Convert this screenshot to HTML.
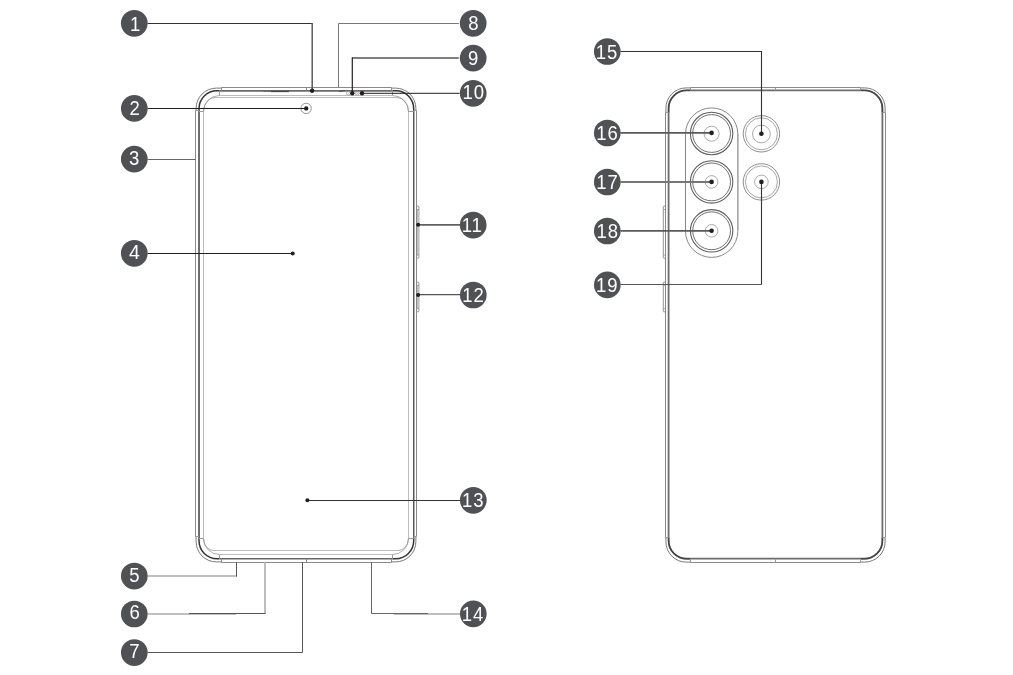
<!DOCTYPE html>
<html lang="en">
<head>
<meta charset="utf-8">
<title>Device layout</title>
<style>
html,body{margin:0;padding:0;background:#fff;}
body{width:1013px;height:675px;overflow:hidden;font-family:"Liberation Sans",sans-serif;}
svg{display:block;}
</style>
</head>
<body>
<svg width="1013" height="675" viewBox="0 0 1013 675">
<defs><filter id="gray" x="0" y="0" width="1013" height="675" filterUnits="userSpaceOnUse" color-interpolation-filters="sRGB"><feColorMatrix type="saturate" values="0"/></filter></defs>
<rect width="1013" height="675" fill="#fff"/>
<g id="front">
<rect x="416.5" y="206.1" width="2.4" height="52.1" rx="0.8" ry="0.8" fill="none" stroke="#808080" stroke-width="0.8"/>
<path d="M417.7 209.8 L417.7 254.8" fill="none" stroke="#c0c0c0" stroke-width="1.6"/>
<path d="M416.5 209.5 H418.9 M416.5 255 H418.9" fill="none" stroke="#888" stroke-width="0.8"/>
<rect x="416.5" y="282.2" width="2.4" height="29.6" rx="0.8" ry="0.8" fill="none" stroke="#808080" stroke-width="0.8"/>
<path d="M417.7 285.6 L417.7 308.4" fill="none" stroke="#c0c0c0" stroke-width="1.6"/>
<path d="M416.5 285.3 H418.9 M416.5 308.7 H418.9" fill="none" stroke="#888" stroke-width="0.8"/>
<path d="M195.5 110.5 V536.5 M416.5 110.5 V536.5 M221.5 87.5 H391.5 M221.5 562.5 H391.5" fill="none" stroke="#8a8a8a" stroke-width="1"/>
<path d="M196.1 110.5 L196.1 108.39999999999999 A20.3 20.3 0 0 1 216.4 88.1 L221.5 88.1 M415.9 110.5 L415.9 108.39999999999999 A20.3 20.3 0 0 0 395.59999999999997 88.1 L391.5 88.1 M196.1 536.5 L196.1 541.6 A20.3 20.3 0 0 0 216.4 561.9 L221.5 561.9 M415.9 536.5 L415.9 541.6 A20.3 20.3 0 0 1 395.59999999999997 561.9 L391.5 561.9" fill="none" stroke="#6a6a6a" stroke-width="0.9"/>
<path d="M199 111.5 V538.5" fill="none" stroke="#6e6e6e" stroke-width="2"/>
<path d="M413.75 111.5 V538.5" fill="none" stroke="#5a5a5a" stroke-width="1.5"/>
<path d="M219.5 90.85 H392.5" fill="none" stroke="#6a6a6a" stroke-width="1.8"/>
<path d="M219.5 558.7 H392.5" fill="none" stroke="#666" stroke-width="1.6"/>
<path d="M199.0 111.5 L199.0 108.8 A18 18 0 0 1 217.0 90.8 L219.5 90.8 M413.7 111.5 L413.7 108.8 A18 18 0 0 0 395.7 90.8 L392.5 90.8 M199.0 538.5 L199.0 540.7 A18 18 0 0 0 217.0 558.7 L219.5 558.7 M413.7 538.5 L413.7 540.7 A18 18 0 0 1 395.7 558.7 L392.5 558.7" fill="none" stroke="#333" stroke-width="1.5"/>
<path d="M203.5 111.5 L203.5 538.5 M408.5 111.5 L408.5 538.5 M219.5 95.5 L392.5 95.5 M214.5 97.5 L397.5 97.5 M214 550.5 L398 550.5 M219.5 554.5 L392.5 554.5" fill="none" stroke="#bdbdbd" stroke-width="1"/>
<path d="M203.5 111.5 A16 16 0 0 1 219.5 95.5 M408.5 111.5 A16 16 0 0 0 392.5 95.5 M203.5 111.5 A11.5 14 0 0 1 215 97.5 M408.5 111.5 A11.5 14 0 0 0 397 97.5 M203.5 538.5 A16 16 0 0 0 219.5 554.5 M408.5 538.5 A16 16 0 0 1 392.5 554.5 M203.5 538.5 A10.5 12 0 0 0 214 550.5 M408.5 538.5 A10.5 12 0 0 1 398 550.5" fill="none" stroke="#8c8c8c" stroke-width="0.7"/>
<path d="M221.5 87.5 L221.5 90.7" fill="none" stroke="#8a8a8a" stroke-width="1"/>
<path d="M221.5 558.6 L221.5 562.5" fill="none" stroke="#8a8a8a" stroke-width="1"/>
<path d="M306.5 87.5 L306.5 90.7" fill="none" stroke="#8a8a8a" stroke-width="1"/>
<path d="M306.5 558.6 L306.5 562.5" fill="none" stroke="#8a8a8a" stroke-width="1"/>
<path d="M391.5 87.5 L391.5 90.7" fill="none" stroke="#8a8a8a" stroke-width="1"/>
<path d="M391.5 558.6 L391.5 562.5" fill="none" stroke="#8a8a8a" stroke-width="1"/>
<path d="M219.5 90.7 L219.5 95.5" fill="none" stroke="#999" stroke-width="1"/>
<path d="M219.5 554.5 L219.5 558.6" fill="none" stroke="#999" stroke-width="1"/>
<path d="M392.5 90.7 L392.5 95.5" fill="none" stroke="#999" stroke-width="1"/>
<path d="M392.5 554.5 L392.5 558.6" fill="none" stroke="#999" stroke-width="1"/>
<path d="M195.5 110.5 H199 M199 111.5 H203.5 M413.6 110.5 H416.5 M408.5 111.5 H413.6 M195.5 536.5 H199 M199 538.5 H203.5 M413.6 536.5 H416.5 M408.5 538.5 H413.6" fill="none" stroke="#999" stroke-width="1"/>
<path d="M263.5 91.2 L272 91.2" fill="none" stroke="#666" stroke-width="1.2"/>
<path d="M271 91.4 L289 91.4" fill="none" stroke="#4a4a4a" stroke-width="1.5"/>
<path d="M339.5 91.3 L345 90.5" fill="none" stroke="#444" stroke-width="1"/>
<circle cx="348.4" cy="93.3" r="1.9" fill="none" stroke="#999" stroke-width="0.7"/>
<circle cx="357.2" cy="93.3" r="1.9" fill="none" stroke="#999" stroke-width="0.7"/>
<path d="M347.2 94.5 L349.6 92.1 M356 94.5 L358.4 92.1 M356 92.1 L358.4 94.5" fill="none" stroke="#aaa" stroke-width="0.6"/>
<circle cx="306.1" cy="108.4" r="5.2" fill="none" stroke="#888" stroke-width="0.9"/>
</g>
<g id="back">
<rect x="663.3" y="206.1" width="2.2" height="52.1" rx="0.5" ry="0.5" fill="none" stroke="#888" stroke-width="0.9"/>
<rect x="663.3" y="282.2" width="2.2" height="29.6" rx="0.5" ry="0.5" fill="none" stroke="#888" stroke-width="0.9"/>
<path d="M663.3 209.5 H665.5 M663.3 255 H665.5 M663.3 285.3 H665.5 M663.3 308.7 H665.5" fill="none" stroke="#999" stroke-width="0.8"/>
<path d="M665.5 112.5 V537.5 M885.5 112.5 V537.5 M690.5 87.5 H860.5 M690.5 562.5 H860.5" fill="none" stroke="#8a8a8a" stroke-width="1"/>
<path d="M665.9 112.5 L665.9 108.2 A20.3 20.3 0 0 1 686.1999999999999 87.9 L690.5 87.9 M885.1 112.5 L885.1 108.2 A20.3 20.3 0 0 0 864.8000000000001 87.9 L860.5 87.9 M665.9 537.5 L665.9 541.8000000000001 A20.3 20.3 0 0 0 686.1999999999999 562.1 L690.5 562.1 M885.1 537.5 L885.1 541.8000000000001 A20.3 20.3 0 0 1 864.8000000000001 562.1 L860.5 562.1" fill="none" stroke="#6a6a6a" stroke-width="0.9"/>
<rect x="668.6" y="90.4" width="213.8" height="468.3" rx="18" ry="18" fill="none" stroke="#6c6c6c" stroke-width="1.8"/>
<path d="M668.6 112.5 L668.6 108.4 A18 18 0 0 1 686.6 90.4 L690.5 90.4 M882.4 112.5 L882.4 108.4 A18 18 0 0 0 864.4 90.4 L860.5 90.4 M668.6 537.5 L668.6 540.7 A18 18 0 0 0 686.6 558.7 L690.5 558.7 M882.4 537.5 L882.4 540.7 A18 18 0 0 1 864.4 558.7 L860.5 558.7" fill="none" stroke="#444" stroke-width="1.4"/>
<path d="M690.5 87.5 L690.5 90.4" fill="none" stroke="#999" stroke-width="1"/>
<path d="M690.5 558.7 L690.5 562.5" fill="none" stroke="#999" stroke-width="1"/>
<path d="M775.5 87.5 L775.5 90.4" fill="none" stroke="#999" stroke-width="1"/>
<path d="M775.5 558.7 L775.5 562.5" fill="none" stroke="#999" stroke-width="1"/>
<path d="M860.5 87.5 L860.5 90.4" fill="none" stroke="#999" stroke-width="1"/>
<path d="M860.5 558.7 L860.5 562.5" fill="none" stroke="#999" stroke-width="1"/>
<path d="M665.5 112.5 L668.6 112.5" fill="none" stroke="#999" stroke-width="1"/>
<path d="M882.4 112.5 L885.5 112.5" fill="none" stroke="#999" stroke-width="1"/>
<path d="M665.5 537.5 L668.6 537.5" fill="none" stroke="#999" stroke-width="1"/>
<path d="M882.4 537.5 L885.5 537.5" fill="none" stroke="#999" stroke-width="1"/>
<rect x="685.5" y="107.9" width="52.3" height="149.5" rx="26.15" ry="26.15" fill="none" stroke="#888" stroke-width="1"/>
<path d="M737.8 134 L737.8 230" fill="none" stroke="#aaa" stroke-width="1.4"/>
<circle cx="711.6" cy="133.5" r="21.2" fill="none" stroke="#606060" stroke-width="1.1"/>
<circle cx="711.6" cy="133.5" r="18.9" fill="none" stroke="#606060" stroke-width="0.9"/>
<circle cx="711.6" cy="133.7" r="7.5" fill="none" stroke="#888" stroke-width="0.7"/>
<circle cx="711.6" cy="181.9" r="21.2" fill="none" stroke="#606060" stroke-width="1.1"/>
<circle cx="711.6" cy="181.9" r="18.9" fill="none" stroke="#606060" stroke-width="0.9"/>
<circle cx="711.6" cy="181.9" r="6.3" fill="none" stroke="#888" stroke-width="0.7"/>
<circle cx="711.6" cy="230.8" r="21.2" fill="none" stroke="#606060" stroke-width="1.1"/>
<circle cx="711.6" cy="230.8" r="18.9" fill="none" stroke="#606060" stroke-width="0.9"/>
<circle cx="711.6" cy="230.8" r="6.3" fill="none" stroke="#888" stroke-width="0.7"/>
<circle cx="761.4" cy="133.8" r="18.2" fill="none" stroke="#808080" stroke-width="0.9"/>
<circle cx="761.4" cy="133.8" r="16.0" fill="none" stroke="#909090" stroke-width="0.8"/>
<circle cx="761.4" cy="134.0" r="8.9" fill="none" stroke="#888" stroke-width="0.7"/>
<circle cx="761.4" cy="181.9" r="18.2" fill="none" stroke="#808080" stroke-width="0.9"/>
<circle cx="761.4" cy="181.9" r="16.0" fill="none" stroke="#909090" stroke-width="0.8"/>
<circle cx="761.4" cy="181.9" r="6.8" fill="none" stroke="#888" stroke-width="0.7"/>
</g>
<g id="leaders">
<path d="M147.5 23.5 L312.2 23.5" fill="none" stroke="#333" stroke-width="1"/>
<path d="M312.2 23 L312.2 90.8" fill="none" stroke="#5a5a5a" stroke-width="1.5"/>
<circle cx="312.1" cy="90.7" r="2.2" fill="#231f20"/>
<path d="M147.5 108.5 L306.2 108.5" fill="none" stroke="#231f20" stroke-width="1.0"/>
<circle cx="306.2" cy="108.4" r="2.2" fill="#231f20"/>
<path d="M147.5 159.5 L195.5 159.5" fill="none" stroke="#666" stroke-width="1"/>
<path d="M147.5 253.5 L292.7 253.5" fill="none" stroke="#231f20" stroke-width="1.0"/>
<circle cx="292.7" cy="253.4" r="2.0" fill="#231f20"/>
<path d="M147.5 576 L237 576" fill="none" stroke="#c0c0c0" stroke-width="2"/>
<path d="M236.5 562.5 L236.5 576.6" fill="none" stroke="#555" stroke-width="1"/>
<path d="M265 562.5 L265 614" fill="none" stroke="#bdbdbd" stroke-width="2"/>
<path d="M147.5 614 L236 614" fill="none" stroke="#c0c0c0" stroke-width="2"/>
<path d="M189 613.5 L265.6 613.5" fill="none" stroke="#555" stroke-width="1"/>
<path d="M147.5 652.5 L302.5 652.5 L302.5 562.5" fill="none" stroke="#555" stroke-width="1"/>
<path d="M458.8 23.5 L338.5 23.5 L338.5 87.5" fill="none" stroke="#777" stroke-width="1"/>
<path d="M458.8 58 L352.3 58" fill="none" stroke="#555" stroke-width="1.6"/>
<path d="M352.3 57.3 L352.3 93.3" fill="none" stroke="#231f20" stroke-width="1.2"/>
<circle cx="352.3" cy="93.3" r="2.2" fill="#231f20"/>
<path d="M459.5 93.3 L362 93.3" fill="none" stroke="#231f20" stroke-width="1.0"/>
<circle cx="362" cy="93.3" r="2.2" fill="#231f20"/>
<path d="M460 224.8 L418.1 224.8" fill="none" stroke="#606060" stroke-width="1.8"/>
<circle cx="418.1" cy="224.8" r="2.0" fill="#231f20"/>
<path d="M460 294.6 L418.1 294.6" fill="none" stroke="#555" stroke-width="1.3"/>
<circle cx="418.1" cy="294.9" r="2.0" fill="#231f20"/>
<path d="M460 500.5 L307.4 500.5" fill="none" stroke="#333" stroke-width="1.0"/>
<circle cx="307.4" cy="500.2" r="2.0" fill="#231f20"/>
<path d="M394 614 L460 614" fill="none" stroke="#bdbdbd" stroke-width="2"/>
<path d="M371.5 562.5 L371.5 613.5 L428 613.5" fill="none" stroke="#666" stroke-width="1"/>
<path d="M620.5 51.5 L761.5 51.5 L761.5 133.8" fill="none" stroke="#333" stroke-width="1.1"/>
<circle cx="761.4" cy="133.8" r="2.3" fill="#231f20"/>
<path d="M620.5 132.9 L711.6 132.9" fill="none" stroke="#5a5a5a" stroke-width="1.9"/>
<circle cx="711.6" cy="132.9" r="2.3" fill="#231f20"/>
<path d="M620.5 182 L711.6 182" fill="none" stroke="#777" stroke-width="1.8"/>
<circle cx="711.6" cy="181.9" r="2.3" fill="#231f20"/>
<path d="M620.5 230.9 L711.6 230.9" fill="none" stroke="#5a5a5a" stroke-width="1.9"/>
<circle cx="711.6" cy="230.8" r="2.3" fill="#231f20"/>
<path d="M620.5 284.5 L761.5 284.5" fill="none" stroke="#555" stroke-width="1.0"/>
<path d="M761.5 284.5 L761.5 181.9" fill="none" stroke="#333" stroke-width="1.1"/>
<circle cx="761.4" cy="181.9" r="2.3" fill="#231f20"/>
</g>
<g id="badges">
<circle cx="134.3" cy="23.3" r="13.35" fill="#505155"/>
<circle cx="134.3" cy="108.4" r="13.35" fill="#505155"/>
<circle cx="134.3" cy="159.1" r="13.35" fill="#505155"/>
<circle cx="134.3" cy="253.3" r="13.35" fill="#505155"/>
<circle cx="134.3" cy="576.05" r="13.35" fill="#505155"/>
<circle cx="134.3" cy="614.0" r="13.35" fill="#505155"/>
<circle cx="134.3" cy="652.55" r="13.35" fill="#505155"/>
<circle cx="473.2" cy="23.3" r="13.35" fill="#505155"/>
<circle cx="473.2" cy="58.1" r="13.35" fill="#505155"/>
<circle cx="473.2" cy="93.3" r="13.35" fill="#505155"/>
<circle cx="473.2" cy="225.05" r="13.35" fill="#505155"/>
<circle cx="473.3" cy="295.0" r="13.35" fill="#505155"/>
<circle cx="473.3" cy="500.3" r="13.35" fill="#505155"/>
<circle cx="473.3" cy="613.85" r="13.35" fill="#505155"/>
<circle cx="607.3" cy="51.5" r="13.35" fill="#505155"/>
<circle cx="607.3" cy="133.0" r="13.35" fill="#505155"/>
<circle cx="607.3" cy="182.0" r="13.35" fill="#505155"/>
<circle cx="607.3" cy="231.0" r="13.35" fill="#505155"/>
<circle cx="607.3" cy="284.9" r="13.35" fill="#505155"/>
</g>
<g id="labels" filter="url(#gray)" font-family="'Liberation Sans', sans-serif">
<text transform="translate(135.2 31.15) scale(0.95 1)" text-anchor="middle" font-size="19.5" fill="#fff">1</text>
<text transform="translate(134.6 115.0) scale(0.95 1)" text-anchor="middle" font-size="19.5" fill="#fff">2</text>
<text transform="translate(134.14 165.4) scale(0.95 1)" text-anchor="middle" font-size="19.5" fill="#fff">3</text>
<text transform="translate(134.3 259.15) scale(1.0 1)" text-anchor="middle" font-size="19.5" fill="#fff">4</text>
<text transform="translate(134.3 582.35) scale(0.95 1)" text-anchor="middle" font-size="19.5" fill="#fff">5</text>
<text transform="translate(134.57 619.15) scale(0.95 1)" text-anchor="middle" font-size="19.5" fill="#fff">6</text>
<text transform="translate(134.5 657.7) scale(0.95 1)" text-anchor="middle" font-size="19.5" fill="#fff">7</text>
<text transform="translate(473.39 29.9) scale(0.95 1)" text-anchor="middle" font-size="19.5" fill="#fff">8</text>
<text transform="translate(473.02 64.96) scale(0.95 1)" text-anchor="middle" font-size="19.5" fill="#fff">9</text>
<text transform="translate(473.69 99.34) scale(0.95 1)" text-anchor="middle" font-size="19.5" fill="#fff" letter-spacing="1.0">10</text>
<text transform="translate(472.21 232.04) scale(0.95 1)" text-anchor="middle" font-size="19.5" fill="#fff" letter-spacing="1.0">11</text>
<text transform="translate(473.48 302.14) scale(0.95 1)" text-anchor="middle" font-size="19.5" fill="#fff" letter-spacing="1.0">12</text>
<text transform="translate(473.2 507.45) scale(0.95 1)" text-anchor="middle" font-size="19.5" fill="#fff" letter-spacing="1.0">13</text>
<text transform="translate(473.07 621.15) scale(0.95 1)" text-anchor="middle" font-size="19.5" fill="#fff" letter-spacing="1.0">14</text>
<text transform="translate(607.11 58.71) scale(0.95 1)" text-anchor="middle" font-size="19.5" fill="#fff" letter-spacing="1.0">15</text>
<text transform="translate(607.48 140.03) scale(0.95 1)" text-anchor="middle" font-size="19.5" fill="#fff" letter-spacing="1.0">16</text>
<text transform="translate(607.53 189.39) scale(0.95 1)" text-anchor="middle" font-size="19.5" fill="#fff" letter-spacing="1.0">17</text>
<text transform="translate(607.64 238.03) scale(0.95 1)" text-anchor="middle" font-size="19.5" fill="#fff" letter-spacing="1.0">18</text>
<text transform="translate(607.28 292.23) scale(0.95 1)" text-anchor="middle" font-size="19.5" fill="#fff" letter-spacing="1.0">19</text>
</g>
</svg>
</body>
</html>
